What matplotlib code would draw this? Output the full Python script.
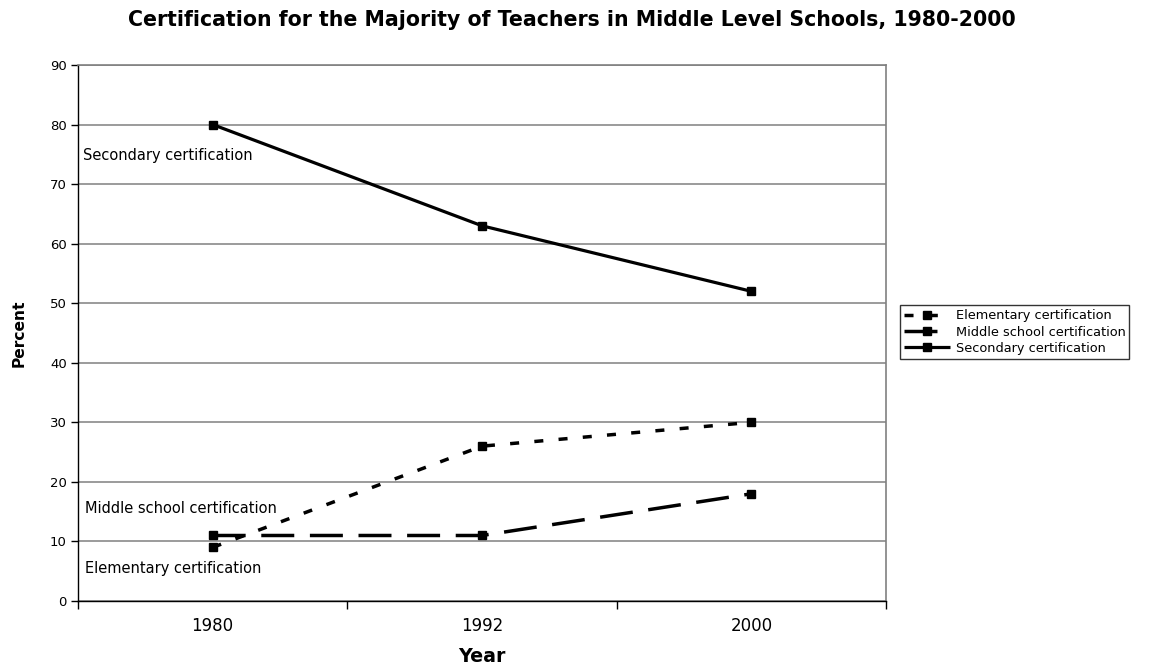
import matplotlib
matplotlib.use("Agg")
import matplotlib.pyplot as plt
from matplotlib.ticker import FixedLocator, NullFormatter

# data
years = ["1980", "1992", "2000"]
elementary = [9, 26, 30]
middle_school = [11, 11, 18]
secondary = [80, 63, 52]
series_names = ["Elementary certification", "Middle school certification",
                "Secondary certification"]
y_ticks = list(range(0, 91, 10))

plt.rcParams["font.family"] = ["DejaVu Sans"]

fig = plt.figure(figsize=(11.61, 6.65), dpi=100)
ax = fig.add_axes([78 / 1161, 1 - 601 / 665, (886 - 78) / 1161, (601 - 65) / 665])

x = list(range(len(years)))
common = dict(color="black", marker="s", markersize=5.5, solid_capstyle="butt",
              dash_capstyle="butt")
ax.plot(x, elementary, linewidth=2.5, dashes=(2.6, 4.4), label=series_names[0], **common)
ax.plot(x, middle_school, linewidth=2.5, dashes=(9.5, 4.5), label=series_names[1], **common)
ax.plot(x, secondary, linewidth=2.3, label=series_names[2], **common)

ax.set_xlim(-0.5, len(years) - 0.5)
ax.set_ylim(0, 90)

# category ticks sit between categories, labels at the centres
ax.xaxis.set_major_locator(FixedLocator([i - 0.5 for i in range(len(years) + 1)]))
ax.xaxis.set_major_formatter(NullFormatter())
ax.xaxis.set_minor_locator(FixedLocator(x))
ax.set_xticklabels(years, minor=True)
ax.tick_params(axis="x", which="major", direction="out", length=6, width=1, color="black")
ax.tick_params(axis="x", which="minor", length=0, pad=11.5, labelsize=12)

ax.set_yticks(y_ticks)
ax.tick_params(axis="y", direction="out", length=5, width=1, pad=3, labelsize=9.5)

ax.grid(axis="y", color="#808080", linewidth=1.1)
ax.set_axisbelow(True)
for side in ("top", "right"):
    ax.spines[side].set_color("#808080")
    ax.spines[side].set_linewidth(1.2)
for side in ("left", "bottom"):
    ax.spines[side].set_color("black")
    ax.spines[side].set_linewidth(1.0)

ax.set_xlabel("Year", fontsize=13.7, fontweight="bold", labelpad=8.5)
ax.set_ylabel("Percent", fontsize=11.2, fontweight="bold", labelpad=17)

fig.text(572 / 1161, 1 - 20 / 665,
         "Certification for the Majority of Teachers in Middle Level Schools, 1980-2000",
         ha="center", va="center", fontsize=14.8, fontweight="bold")

# in-plot series labels
ax.text(-0.48, 74.8, "Secondary certification", fontsize=10.5, va="center")
ax.text(-0.475, 15.6, "Middle school certification", fontsize=10.5, va="center")
ax.text(-0.475, 5.5, "Elementary certification", fontsize=10.5, va="center")

leg = ax.legend(loc="center left", bbox_to_anchor=(900 / 1161, 1 - 332 / 665),
                bbox_transform=fig.transFigure, fontsize=9.3, frameon=True,
                fancybox=False, edgecolor="black", borderpad=0.3,
                handlelength=3.6, handletextpad=0.4, labelspacing=0.25,
                borderaxespad=0)
leg.get_frame().set_linewidth(1.0)

fig.savefig("out.png", dpi=100)
